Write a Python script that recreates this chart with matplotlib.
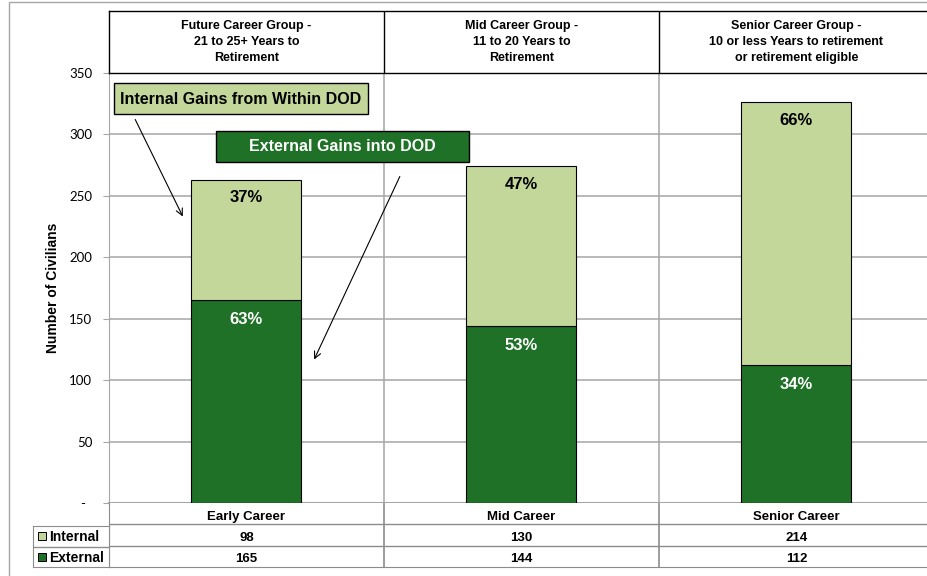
import numpy as np
import matplotlib
matplotlib.use("Agg")
import matplotlib.pyplot as plt
from matplotlib.patches import Rectangle, FancyArrowPatch

categories = ["Early Career", "Mid Career", "Senior Career"]
group_titles = ["Future Career Group -\n21 to 25+ Years to\nRetirement",
                "Mid Career Group -\n11 to 20 Years to\nRetirement",
                "Senior Career Group -\n10 or less Years to retirement\nor retirement eligible"]
internal = [98, 130, 214]
external = [165, 144, 112]
series_names = ["Internal", "External"]
yticks = [0, 50, 100, 150, 200, 250, 300, 350]
ytick_labels = ["-  ", "50", "100", "150", "200", "250", "300", "350"]

W, H = 928, 576
LIGHT = "#C4D79B"
DARK = "#1E7126"
GRID = "#a6a6a6"
TAB = "#8c8c8c"


def fx(px):
    return px / W


def fy(py):
    return 1 - py / H


plt.rcParams["font.family"] = ["Liberation Sans", "DejaVu Sans"]
fig = plt.figure(figsize=(W / 100, H / 100), dpi=100)

# outer chart frame
fig.add_artist(Rectangle((fx(9), -0.1), 1.2, fy(2) + 0.1, transform=fig.transFigure,
                         fill=False, edgecolor=GRID, lw=1.0, zorder=0))

left, right = 109, 934
aw = (right - left) / W
x = np.arange(len(categories))

# main plot
ax = fig.add_axes([fx(left), fy(503), aw, (503 - 73) / H])
ax.bar(x, external, 0.4, color=DARK, edgecolor="black", linewidth=0.8, zorder=3)
ax.bar(x, internal, 0.4, bottom=external, color=LIGHT, edgecolor="black", linewidth=0.8, zorder=3)
ax.set_xlim(-0.5, 2.5)
ax.set_ylim(0, 350)
ax.set_yticks(yticks)
ax.set_yticklabels(ytick_labels, fontfamily="Lato", fontsize=9.5)
ax.set_xticks([])
ax.grid(axis="y", color=GRID, lw=1.1, zorder=1)
for b in [0.5, 1.5]:
    ax.axvline(b, color=GRID, lw=1.1, zorder=1)
for s in ["top", "right"]:
    ax.spines[s].set_visible(False)
ax.spines["left"].set_color(GRID)
ax.spines["bottom"].set_color(GRID)
ax.spines["bottom"].set_linewidth(1.5)
ax.tick_params(axis="y", length=4, color=GRID, pad=8)
ax.set_ylabel("Number of Civilians", fontweight="bold", fontsize=10)
ax.yaxis.set_label_coords(-0.059, 0.5)

# percentage labels
for i in range(len(categories)):
    total = internal[i] + external[i]
    ax.annotate(f"{round(100 * internal[i] / total)}%", xy=(x[i], total), xytext=(0, -13),
                textcoords="offset points", ha="center", va="center",
                fontweight="bold", fontsize=12, color="black", zorder=5)
    ax.annotate(f"{round(100 * external[i] / total)}%", xy=(x[i], external[i]), xytext=(0, -14),
                textcoords="offset points", ha="center", va="center",
                fontweight="bold", fontsize=12, color="white", zorder=5)

# header row
ax_head = fig.add_axes([fx(left), fy(73), aw, (73 - 11) / H], sharex=ax)
ax_head.set_ylim(0, 1)
ax_head.set_xticks([])
ax_head.set_yticks([])
for s in ax_head.spines.values():
    s.set_color("black")
    s.set_linewidth(1.0)
for b in [0.5, 1.5]:
    ax_head.axvline(b, color="black", lw=1.0)
for i, t in enumerate(group_titles):
    ax_head.text(x[i], 0.5, t, ha="center", va="center", fontweight="bold",
                 fontsize=9, linespacing=1.42)

# data table
ax_tab = fig.add_axes([fx(left), fy(567), aw, (567 - 503) / H], sharex=ax)
ax_tab.set_ylim(3, 0)
ax_tab.set_xticks([])
ax_tab.set_yticks([])
for s in ax_tab.spines.values():
    s.set_color(TAB)
ax_tab.spines["top"].set_visible(False)
for r in [1, 2]:
    ax_tab.axhline(r, color=TAB, lw=1.0)
for b in [0.5, 1.5]:
    ax_tab.axvline(b, color=TAB, lw=1.2)
for i in range(len(categories)):
    ax_tab.text(x[i], 0.66, categories[i], ha="center", va="center", fontweight="bold", fontsize=9.5)
    ax_tab.text(x[i], 1.62, str(internal[i]), ha="center", va="center", fontweight="bold", fontsize=9.5)
    ax_tab.text(x[i], 2.62, str(external[i]), ha="center", va="center", fontweight="bold", fontsize=9.5)

# legend key column
ax_leg = fig.add_axes([fx(33), fy(567), (left - 33) / W, (567 - 526) / H])
ax_leg.set_xlim(0, 76)
ax_leg.set_ylim(2, 0)
ax_leg.set_xticks([])
ax_leg.set_yticks([])
for s in ax_leg.spines.values():
    s.set_color(TAB)
ax_leg.axhline(1, color=TAB, lw=1.0)
for r, (name, col) in enumerate(zip(series_names, [LIGHT, DARK])):
    ax_leg.plot([9], [r + 0.5], marker="s", markersize=5.5, mfc=col, mec="black", mew=0.7)
    ax_leg.text(16, r + 0.55, name, ha="left", va="center", fontweight="bold", fontsize=10)

# call-out boxes
fig.add_artist(Rectangle((fx(114), fy(114)), fx(368) - fx(114), fy(83) - fy(114),
                         transform=fig.transFigure, facecolor=LIGHT, edgecolor="black", lw=1.0, zorder=4))
fig.text(fx(241), fy(99), "Internal Gains from Within DOD", ha="center", va="center",
         fontweight="bold", fontsize=11.5, color="black", zorder=5)
fig.add_artist(Rectangle((fx(216), fy(162)), fx(469) - fx(216), fy(131) - fy(162),
                         transform=fig.transFigure, facecolor=DARK, edgecolor="black", lw=1.0, zorder=4))
fig.text(fx(342), fy(147), "External Gains into DOD", ha="center", va="center",
         fontweight="bold", fontsize=11.5, color="white", zorder=5)

fig.add_artist(FancyArrowPatch((fx(134), fy(117)), (fx(184), fy(219)), transform=fig.transFigure,
                               arrowstyle="->", mutation_scale=12, lw=0.8, color="black", zorder=4))
fig.add_artist(FancyArrowPatch((fx(401), fy(174)), (fx(313), fy(362)), transform=fig.transFigure,
                               arrowstyle="->", mutation_scale=12, lw=0.8, color="black", zorder=4))

fig.savefig("out.png", dpi=100)
